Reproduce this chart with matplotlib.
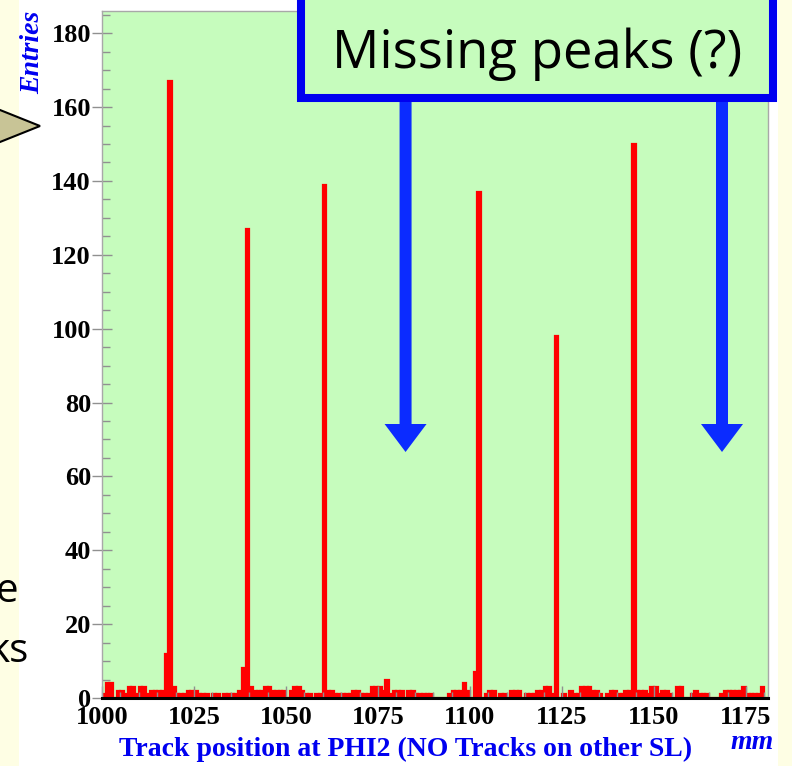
import numpy as np
import matplotlib.pyplot as plt
from matplotlib.patches import Rectangle, Polygon, FancyArrow
from matplotlib.ticker import MultipleLocator

# track position histogram, 1 mm bins starting at 1000 mm
bin_start = 1000
bin_width = 1
counts = [
    1, 4, 4, 0, 2, 2, 1, 3, 3, 1, 3, 3, 1, 2, 2, 2, 2, 12, 167,
    3, 1, 1, 1, 2, 2, 2, 1, 1, 1, 0, 1, 1, 0, 1, 1, 1, 1, 2, 8, 127,
    3, 2, 2, 2, 3, 3, 2, 2, 2, 2, 0, 2, 3, 3, 2, 1, 1, 0, 1, 1, 139,
    2, 2, 1, 1, 1, 1, 1, 2, 2, 1, 1, 1, 3, 3, 3, 2, 5, 1, 2, 2, 2, 0, 2, 2, 1, 1, 1, 1, 1, 0,
    0, 0, 0, 1, 2, 2, 2, 4, 2, 0, 7, 137,
    0, 1, 2, 2, 0, 1, 1, 0, 2, 2, 2, 0, 1, 1, 1, 2, 2, 3, 3, 1, 98,
    0, 1, 0, 2, 1, 1, 3, 3, 3, 2, 2, 1, 0, 1, 2, 2, 1, 1, 2, 2, 150,
    2, 2, 2, 1, 3, 3, 1, 2, 2, 1, 0, 3, 3, 0, 0, 1, 2, 1, 1, 1, 0,
    0, 0, 1, 2, 2, 2, 2, 2, 3, 1, 1, 1, 1, 3, 0,
]
x_range = (1000, 1181)
y_range = (0, 186)
x_ticks = [1000, 1025, 1050, 1075, 1100, 1125, 1150, 1175]
y_ticks = [0, 20, 40, 60, 80, 100, 120, 140, 160, 180]
x_title = "Track position at PHI2 (NO Tracks on other SL)"
x_unit = "mm"
y_title = "Entries"
note_text = "Missing peaks (?)"
# where the expected peaks are absent
missing_at = [1082.5, 1168.5]

green = "#c6fcbd"
blue = "#0000f0"
arrow_blue = "#0b2bff"
pale = "#fefee4"

W, H = 792, 766
fig = plt.figure(figsize=(W / 100, H / 100), dpi=100)
fig.patch.set_facecolor("white")

# pale slide strips on both sides, kept under everything else
fig.patches.append(Rectangle((0, 0), 19 / W, 1, transform=fig.transFigure,
                             facecolor=pale, edgecolor="none", zorder=-5))
fig.patches.append(Rectangle((778 / W, 0), 14 / W, 1, transform=fig.transFigure,
                             facecolor=pale, edgecolor="none", zorder=-5))

# frame in pixels: x 102..768, y 11..698 (from top)
ax = fig.add_axes([102 / W, (H - 698) / H, 666 / W, 687 / H])
ax.set_facecolor(green)

edges = bin_start + bin_width * np.arange(len(counts))
ax.bar(edges + bin_width / 2, counts, width=bin_width, color="#ff0000",
       edgecolor="#ff0000", linewidth=1.6)

ax.set_xlim(*x_range)
ax.set_ylim(*y_range)
ax.set_xticks(x_ticks)
ax.set_yticks(y_ticks)
ax.xaxis.set_minor_locator(MultipleLocator(5))
ax.yaxis.set_minor_locator(MultipleLocator(5))

tick_font = dict(family="Liberation Serif", weight="bold", size=19)
ax.set_xticklabels([str(v) for v in x_ticks], fontdict=tick_font)
ax.set_yticklabels([str(v) for v in y_ticks], fontdict=tick_font)

ax.tick_params(axis="y", which="major", direction="inout", length=14,
               width=1, color="#909090", pad=1)
ax.tick_params(axis="y", which="minor", direction="in", length=6,
               width=1, color="#909090")
ax.tick_params(axis="x", which="major", direction="in", length=9,
               width=1, color="#909090", pad=6)
ax.tick_params(axis="x", which="minor", direction="in", length=4,
               width=1, color="#909090")

for side in ["left", "top", "right"]:
    ax.spines[side].set_color("#a8a8a8")
    ax.spines[side].set_linewidth(1)
ax.spines["bottom"].set_color("black")
ax.spines["bottom"].set_linewidth(2.2)

# overlay in pixel coordinates for the annotations
ov = fig.add_axes([0, 0, 1, 1])
ov.set_xlim(0, W)
ov.set_ylim(H, 0)
ov.axis("off")
ov.patch.set_alpha(0)

ov.text(33, 11, y_title, rotation=90, ha="center", va="top", color=blue,
        family="Liberation Serif", weight="bold", style="italic", size=20)
ov.text(406, 749, x_title, ha="center", va="center", color=blue,
        family="Liberation Serif", weight="bold", size=20)
ov.text(774, 749, x_unit, ha="right", va="baseline", color=blue,
        family="Liberation Serif", weight="bold", style="italic", size=20)

# note box
ov.add_patch(Rectangle((301, -20), 472, 118, facecolor=green,
                       edgecolor=blue, linewidth=5.8))
ov.text(537, 54, note_text, ha="center", va="center", color="black",
        family="Open Sans", size=38)

# arrows pointing at the missing peaks
px_per_mm = 666 / (x_range[1] - x_range[0])
for pos in missing_at:
    xp = 102 + (pos - x_range[0]) * px_per_mm
    ov.add_patch(FancyArrow(xp, 102, 0, 350, width=12, head_width=42,
                            head_length=28, length_includes_head=True,
                            color=arrow_blue, linewidth=0))

# callout pointer and clipped slide text on the left
ov.add_patch(Polygon([(-10, 106), (40, 126), (-10, 146)], closed=True,
                     facecolor="#c8c496", edgecolor="black", linewidth=1.5))
ov.text(-4, 602, "e", ha="left", va="baseline", color="black",
        family="Open Sans", size=29)
ov.text(-12, 662, "ks", ha="left", va="baseline", color="black",
        family="Open Sans", size=29)

fig.savefig("out.png", dpi=100)
